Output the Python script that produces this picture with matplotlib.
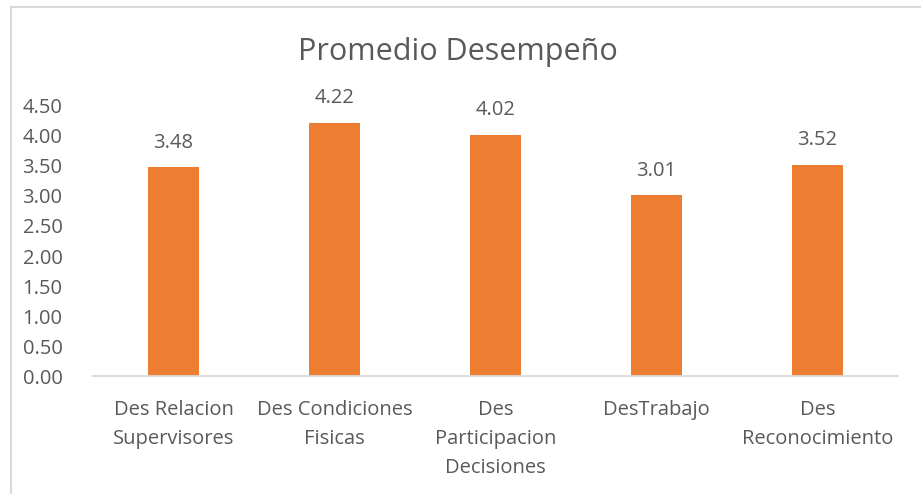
import matplotlib
matplotlib.use("Agg")
import matplotlib.pyplot as plt
from matplotlib.lines import Line2D

categories = ["Des Relacion\nSupervisores", "Des Condiciones\nFisicas",
              "Des\nParticipacion\nDecisiones", "DesTrabajo", "Des\nReconocimiento"]
values = [3.48, 4.22, 4.02, 3.01, 3.52]
yticks = [0.0, 0.5, 1.0, 1.5, 2.0, 2.5, 3.0, 3.5, 4.0, 4.5]
title = "Promedio Desempeño"

ORANGE = "#ED7D31"
TEXT = "#595959"
GRID = "#D9D9D9"

plt.rcParams['font.family'] = ['Open Sans', 'DejaVu Sans']

W, H = 921, 494
fig = plt.figure(figsize=(W / 100, H / 100), dpi=100)
ax = fig.add_axes([93 / W, 1 - 376 / H, (898 - 93) / W, (376 - 106) / H])

x = list(range(len(categories)))
ax.bar(x, values, width=0.317, color=ORANGE, zorder=2)
ax.set_xlim(-0.5, len(categories) - 0.5)
ax.set_ylim(0, 4.5)
ax.set_yticks(yticks)
ax.set_yticklabels([f"{v:.2f}" for v in yticks], color=TEXT, fontsize=14.5)
ax.set_xticks(x)
ax.set_xticklabels(categories, color=TEXT, fontsize=14.5, linespacing=1.6, va="top")
ax.tick_params(axis="both", length=0)
ax.tick_params(axis="y", pad=22)
ax.tick_params(axis="x", pad=17)
for s in ["top", "right", "left"]:
    ax.spines[s].set_visible(False)
ax.spines["bottom"].set_color(GRID)
ax.spines["bottom"].set_linewidth(1.3)

for xi, v in zip(x, values):
    ax.annotate(f"{v:.2f}", (xi, v), xytext=(0, 17.5), textcoords="offset points",
                ha="center", va="center", color=TEXT, fontsize=14.5)

fig.text(458 / W, 1 - 52 / H, title, ha="center", va="center", color=TEXT, fontsize=22)

# chart area border (cropped on right and bottom)
fig.add_artist(Line2D([11 / W, 1], [1 - 7 / H, 1 - 7 / H], color=GRID, lw=1.5, transform=fig.transFigure))
fig.add_artist(Line2D([11 / W, 11 / W], [0, 1 - 7 / H], color=GRID, lw=1.5, transform=fig.transFigure))

fig.savefig("out.png", dpi=100)
